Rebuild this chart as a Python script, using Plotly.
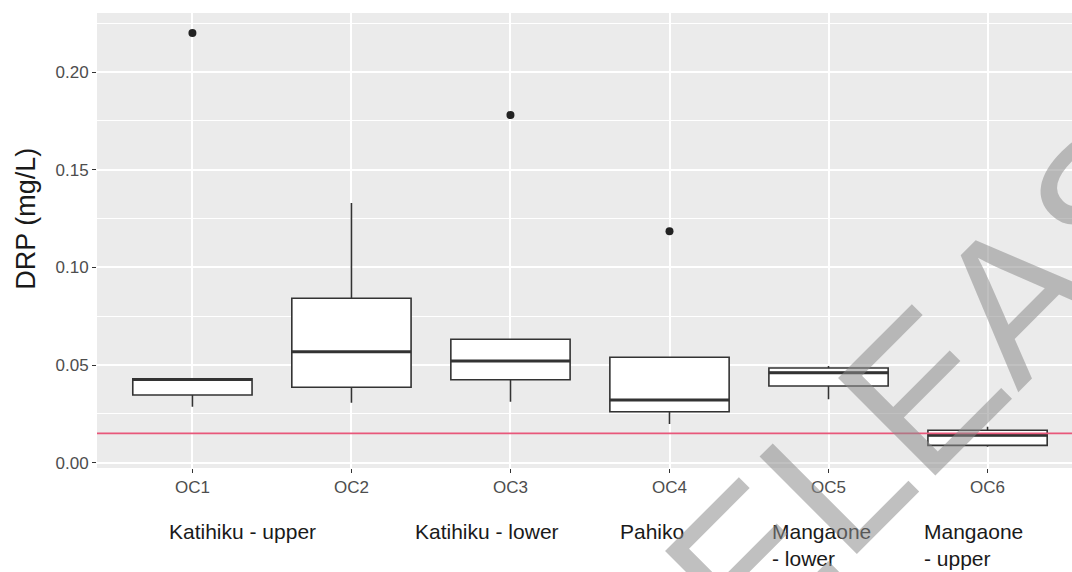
import plotly.graph_objects as go

# Dissolved reactive phosphorus summary per monitoring site
sites = ["OC1", "OC2", "OC3", "OC4", "OC5", "OC6"]
lower_whisker = [0.0287, 0.0307, 0.0312, 0.0198, 0.0325, 0.0082]
q1_vals = [0.0347, 0.0386, 0.0425, 0.0261, 0.0393, 0.0089]
median_vals = [0.0426, 0.0568, 0.0521, 0.0321, 0.0461, 0.0140]
q3_vals = [0.0430, 0.0842, 0.0632, 0.0540, 0.0485, 0.0166]
upper_whisker = [0.0430, 0.1329, 0.0632, 0.0540, 0.0495, 0.0184]

outlier_sites = ["OC1", "OC3", "OC4"]
outlier_vals = [0.220, 0.178, 0.1185]

guideline = 0.015

stream_names = ["Katihiku - upper", "Katihiku - lower", "Pahiko",
                "Mangaone<br>- lower", "Mangaone<br>- upper"]
stream_label_x = [0.84, 2.387, 3.677, 4.633, 5.589]

FONT = "Liberation Sans, Arial, sans-serif"
BOX_W = 0.75
pos = {s: i + 1 for i, s in enumerate(sites)}
xs = [pos[s] for s in sites]

fig = go.Figure()

fig.add_trace(go.Box(
    x=xs, q1=q1_vals, median=median_vals, q3=q3_vals,
    lowerfence=lower_whisker, upperfence=upper_whisker,
    width=BOX_W, whiskerwidth=0, boxpoints=False,
    fillcolor="white", line=dict(color="#333333", width=1.6),
    showlegend=False, hoverinfo="skip",
))

# heavier median bars, ggplot style
for x, m in zip(xs, median_vals):
    fig.add_trace(go.Scatter(
        x=[x - BOX_W / 2, x + BOX_W / 2], y=[m, m], mode="lines",
        line=dict(color="#333333", width=3), showlegend=False, hoverinfo="skip",
    ))

fig.add_trace(go.Scatter(
    x=[pos[s] for s in outlier_sites], y=outlier_vals, mode="markers",
    marker=dict(color="#222222", size=8), showlegend=False, hoverinfo="skip",
))

fig.add_hline(y=guideline, line=dict(color="#e8577a", width=1.6), layer="above")

fig.update_layout(
    width=1072, height=572,
    margin=dict(l=97, r=0, t=13, b=104),
    paper_bgcolor="white", plot_bgcolor="#EBEBEB",
    font=dict(family=FONT),
    showlegend=False,
)

fig.update_xaxes(
    range=[0.4, 6.531], tickmode="array", tickvals=xs, ticktext=sites,
    showgrid=True, gridcolor="white", gridwidth=2, zeroline=False,
    ticks="outside", ticklen=4, tickcolor="#333333", tickwidth=1,
    tickfont=dict(size=17, color="#4D4D4D", family=FONT),
)

fig.update_yaxes(
    range=[-0.0027, 0.2302], tickmode="array",
    tickvals=[0, 0.05, 0.10, 0.15, 0.20],
    ticktext=["0.00", "0.05", "0.10", "0.15", "0.20"],
    showgrid=True, gridcolor="white", gridwidth=2, zeroline=False,
    ticks="outside", ticklen=4, tickcolor="#333333", tickwidth=1,
    tickfont=dict(size=17, color="#4D4D4D", family=FONT),
    minor=dict(tickmode="array", tickvals=[0.025, 0.075, 0.125, 0.175, 0.225],
               showgrid=True, gridcolor="white", gridwidth=1.3, ticks=""),
)

# y-axis title
fig.add_annotation(
    text="DRP (mg/L)", xref="paper", yref="paper", x=-0.0728, y=0.548,
    textangle=-90, showarrow=False, xanchor="center", yanchor="middle",
    font=dict(size=27, color="#1A1A1A", family=FONT),
)

# stream names beneath the site codes
for name, lx in zip(stream_names, stream_label_x):
    fig.add_annotation(
        text=name, xref="x", yref="paper", x=lx, y=-0.109,
        showarrow=False, xanchor="left", yanchor="top", align="left",
        font=dict(size=21, color="#1A1A1A", family=FONT),
    )

# diagonal watermark
fig.add_annotation(
    text="RELEASE", xref="paper", yref="paper", x=0.85, y=0.18,
    textangle=-45, showarrow=False, xanchor="center", yanchor="middle",
    font=dict(size=200, color="rgba(140,140,140,0.55)", family=FONT),
)

fig.write_html("out.html")
